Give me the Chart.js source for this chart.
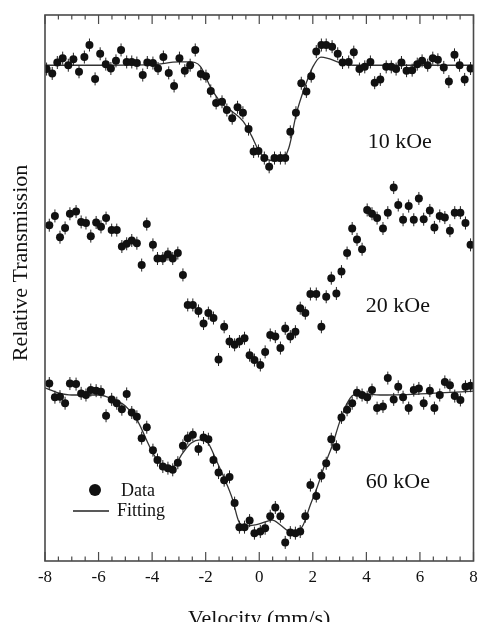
<!DOCTYPE html>
<html>
<head>
<meta charset="utf-8">
<script src="https://cdn.jsdelivr.net/npm/chart.js@4.4.1/dist/chart.umd.min.js"></script>
<style>
  html, body { margin: 0; padding: 0; background: #fff; overflow: hidden; }
  #wrap { width: 481px; height: 622px; }
</style>
</head>
<body>
<div id="wrap"><canvas id="mossChart"></canvas></div>
<script>
// velocities (mm/s), 10 kOe spectrum
const vel10 = [-7.94, -7.73, -7.54, -7.34, -7.13, -6.94, -6.73, -6.53, -6.34, -6.13,
  -5.94, -5.73, -5.54, -5.35, -5.16, -4.95, -4.76, -4.57, -4.35, -4.18,
  -3.97, -3.78, -3.58, -3.38, -3.18, -2.98, -2.78, -2.58, -2.39, -2.18,
  -1.99, -1.81, -1.61, -1.39, -1.21, -1.01, -0.81, -0.61, -0.40, -0.21,
  -0.03, 0.19, 0.37, 0.57, 0.79, 0.97, 1.16, 1.37, 1.57, 1.76,
  1.94, 2.13, 2.32, 2.50, 2.72, 2.93, 3.11, 3.34, 3.53, 3.74,
  3.94, 4.15, 4.31, 4.52, 4.74, 4.93, 5.11, 5.31, 5.50, 5.71,
  5.90, 6.08, 6.29, 6.48, 6.67, 6.89, 7.08, 7.29, 7.48, 7.67, 7.89];

// relative transmission, arbitrary units (spectra are stacked)
const tr10 = [90.1, 89.3, 91.3, 92.1, 90.8, 91.9, 89.6, 92.3, 94.5, 88.3,
  92.9, 91.0, 90.2, 91.6, 93.6, 91.4, 91.4, 91.2, 89.0, 91.3,
  91.2, 90.2, 92.3, 89.4, 87.0, 92.1, 89.8, 90.8, 93.6, 89.2,
  88.8, 86.1, 83.9, 84.1, 82.6, 81.1, 83.1, 82.1, 79.1, 75.0,
  75.1, 73.8, 72.2, 73.8, 73.8, 73.8, 78.6, 82.1, 87.5, 86.0,
  88.8, 93.3, 94.5, 94.5, 94.2, 92.9, 91.3, 91.4, 93.2, 90.1,
  90.5, 91.4, 87.6, 88.2, 90.5, 90.5, 90.1, 91.3, 89.8, 89.9,
  91.0, 91.6, 90.8, 92.1, 91.8, 90.4, 87.8, 92.7, 90.8, 88.2, 90.2];

// velocities for the 20 kOe and 60 kOe spectra
const vel = [-7.84, -7.63, -7.44, -7.25, -7.07, -6.84, -6.65, -6.47, -6.29, -6.09,
  -5.91, -5.72, -5.51, -5.32, -5.13, -4.95, -4.76, -4.57, -4.39, -4.20,
  -3.97, -3.80, -3.60, -3.41, -3.23, -3.04, -2.85, -2.67, -2.48, -2.27,
  -2.08, -1.90, -1.71, -1.52, -1.31, -1.11, -0.92, -0.74, -0.55, -0.36,
  -0.18, 0.04, 0.22, 0.41, 0.60, 0.79, 0.97, 1.16, 1.35, 1.53,
  1.72, 1.91, 2.13, 2.32, 2.50, 2.69, 2.88, 3.07, 3.28, 3.47,
  3.65, 3.84, 4.03, 4.21, 4.40, 4.62, 4.80, 5.02, 5.19, 5.37,
  5.58, 5.77, 5.96, 6.14, 6.37, 6.54, 6.74, 6.93, 7.12, 7.30,
  7.51, 7.70, 7.89];

const tr20 = [61.5, 63.2, 59.3, 61.0, 63.6, 64.0, 62.1, 61.9, 59.5, 62.0,
  61.2, 62.8, 60.6, 60.6, 57.6, 58.1, 58.7, 58.2, 54.2, 61.7,
  57.9, 55.4, 55.4, 56.2, 55.4, 56.4, 52.4, 46.9, 46.9, 45.8,
  43.5, 45.4, 44.5, 36.9, 42.9, 40.2, 39.6, 40.2, 40.8, 37.7,
  36.8, 35.9, 38.3, 41.4, 41.1, 39.0, 42.6, 41.1, 42.0, 46.3,
  45.4, 48.9, 48.9, 42.9, 48.4, 51.8, 49.0, 53.0, 56.4, 60.9,
  58.9, 57.1, 64.3, 63.6, 62.8, 60.9, 63.8, 68.4, 65.2, 62.5,
  65.0, 62.5, 66.4, 62.6, 64.2, 61.1, 63.2, 62.9, 60.5, 63.8,
  63.8, 61.9, 57.9];

const tr60 = [32.5, 30.0, 30.1, 28.9, 32.5, 32.4, 30.7, 30.4, 31.3, 31.2,
  31.0, 26.6, 29.6, 28.9, 27.8, 30.6, 27.2, 26.4, 22.5, 24.5,
  20.3, 18.5, 17.3, 17.0, 16.7, 18.0, 21.1, 22.5, 23.1, 20.5,
  22.6, 22.3, 18.5, 16.2, 14.8, 15.4, 10.6, 6.2, 6.2, 7.4,
  5.1, 5.4, 6.0, 8.2, 9.8, 8.2, 3.4, 5.2, 5.1, 5.4,
  8.2, 13.9, 11.9, 15.6, 17.9, 22.3, 20.9, 26.3, 27.7, 28.9,
  30.8, 30.4, 30.0, 31.3, 28.0, 28.3, 33.5, 29.6, 31.9, 30.0,
  28.0, 31.3, 31.6, 28.9, 31.2, 28.0, 30.4, 32.8, 32.2, 30.2,
  29.5, 31.9, 32.1];

// fitted curves
const fitVel10 = [-8.0, -6.0, -4.0, -3.0, -2.6, -2.2, -1.8, -1.4, -1.0, -0.6, -0.3, 0.0,
  0.4, 0.8, 1.1, 1.4, 1.7, 2.0, 2.3, 2.6, 3.0, 3.5, 4.0, 6.0, 8.0];
const fit10 = [90.8, 90.8, 90.9, 91.4, 91.4, 90.6, 86.6, 83.8, 82.3, 80.5, 78.0, 75.0,
  73.4, 73.3, 75.6, 82.2, 86.8, 90.5, 92.3, 92.0, 91.3, 90.8, 90.8, 90.8, 90.8];

const fitVel60 = [-8.0, -7.5, -7.0, -6.0, -5.5, -5.0, -4.56, -4.07, -3.81, -3.44, -3.18,
  -2.88, -2.54, -2.21, -1.91, -1.61, -1.31, -1.01, -0.75, -0.49, -0.15, 0.19, 0.49,
  0.79, 1.08, 1.38, 1.64, 1.91, 2.17, 2.43, 2.73, 2.99, 3.25, 3.51, 3.85, 4.52, 6.02, 8.0];
const fit60 = [31.7, 30.8, 30.4, 30.4, 29.7, 28.4, 25.8, 20.7, 18.5, 17.2, 17.4,
  19.6, 21.6, 22.2, 21.6, 18.5, 15.2, 11.5, 7.1, 6.4, 6.6, 7.1, 7.5,
  6.6, 5.5, 5.3, 6.6, 10.3, 13.6, 17.4, 21.2, 25.3, 28.6, 30.4, 30.6, 30.4, 30.6, 31.1];

const fieldLabels = ['10 kOe', '20 kOe', '60 kOe'];
const velTicks = [-8, -6, -4, -2, 0, 2, 4, 6, 8];

const serif = '"Liberation Serif", "Times New Roman", serif';

function pairs(xs, ys) {
  return xs.map((v, i) => ({x: v, y: ys[i]}));
}

function dots(data) {
  return {
    data: data,
    pointStyle: 'circle',
    pointRadius: 4,
    backgroundColor: '#111',
    borderWidth: 0
  };
}

function bars(data) {
  return {
    data: data,
    pointStyle: 'line',
    rotation: 90,
    pointRadius: 6.5,
    borderColor: '#222',
    borderWidth: 1
  };
}

function fitLine(data) {
  return {
    data: data,
    showLine: true,
    pointRadius: 0,
    borderColor: '#333',
    borderWidth: 1.3,
    cubicInterpolationMode: 'monotone'
  };
}

// frame, inward ticks, labels and legend
const decor = {
  id: 'decor',
  afterDatasetsDraw(chart) {
    const ctx = chart.ctx;
    const a = chart.chartArea;
    const x = chart.scales.x;
    const y = chart.scales.y;
    ctx.save();

    ctx.strokeStyle = '#4a4a4a';
    ctx.lineWidth = 1.2;
    for (let i = 0; i <= 32; i++) {
      const px = x.getPixelForValue(-8 + i * 0.5);
      const len = (i % 4 === 0) ? 9 : 4.5;
      ctx.beginPath();
      ctx.moveTo(px, a.bottom);
      ctx.lineTo(px, a.bottom - len);
      ctx.moveTo(px, a.top);
      ctx.lineTo(px, a.top + len);
      ctx.stroke();
    }
    ctx.lineWidth = 1.6;
    ctx.strokeRect(a.left, a.top, a.right - a.left, a.bottom - a.top);

    ctx.fillStyle = '#111';
    ctx.textBaseline = 'alphabetic';
    ctx.textAlign = 'left';
    ctx.font = '22px ' + serif;
    const spots = [[4.05, 75.6], [3.98, 45.6], [3.98, 13.4]];
    fieldLabels.forEach((t, i) => {
      ctx.fillText(t, x.getPixelForValue(spots[i][0]), y.getPixelForValue(spots[i][1]));
    });

    // y title
    ctx.save();
    ctx.translate(26.5, 263);
    ctx.rotate(-Math.PI / 2);
    ctx.textAlign = 'center';
    ctx.fillText('Relative Transmission', 0, 0);
    ctx.restore();

    // legend
    ctx.font = '18px ' + serif;
    ctx.beginPath();
    ctx.arc(a.left + 50, a.top + 475, 6, 0, Math.PI * 2);
    ctx.fill();
    ctx.fillText('Data', a.left + 76, a.top + 481);
    ctx.strokeStyle = '#222';
    ctx.lineWidth = 1.3;
    ctx.beginPath();
    ctx.moveTo(a.left + 28, a.top + 496);
    ctx.lineTo(a.left + 64, a.top + 496);
    ctx.stroke();
    ctx.fillText('Fitting', a.left + 72, a.top + 501);

    ctx.restore();
  }
};

const p10 = pairs(vel10, tr10);
const p20 = pairs(vel, tr20);
const p60 = pairs(vel, tr60);

new Chart(document.getElementById('mossChart'), {
  type: 'scatter',
  data: {
    datasets: [
      dots(p10), dots(p20), dots(p60),
      bars(p10), bars(p20), bars(p60),
      fitLine(pairs(fitVel10, fit10)),
      fitLine(pairs(fitVel60, fit60))
    ]
  },
  options: {
    responsive: true,
    maintainAspectRatio: false,
    animation: false,
    layout: { padding: { left: 45, right: 2, top: 15, bottom: 0 } },
    plugins: {
      legend: { display: false },
      tooltip: { enabled: false }
    },
    scales: {
      x: {
        type: 'linear',
        min: -8,
        max: 8,
        afterBuildTicks(scale) {
          scale.ticks = velTicks.map(v => ({value: v}));
        },
        afterFit(scale) {
          scale.height = 61;
          scale.paddingLeft = 0;
          scale.paddingRight = 0;
        },
        grid: { display: false, drawTicks: false },
        border: { display: false },
        ticks: {
          font: { family: serif, size: 17 },
          color: '#111',
          padding: 6,
          maxRotation: 0,
          autoSkip: false
        },
        title: {
          display: true,
          text: 'Velocity (mm/s)',
          font: { family: serif, size: 22 },
          color: '#111',
          padding: { top: 0, bottom: -10 }
        }
      },
      y: {
        display: false,
        min: 0,
        max: 100
      }
    }
  },
  plugins: [decor]
});
</script>
</body>
</html>
